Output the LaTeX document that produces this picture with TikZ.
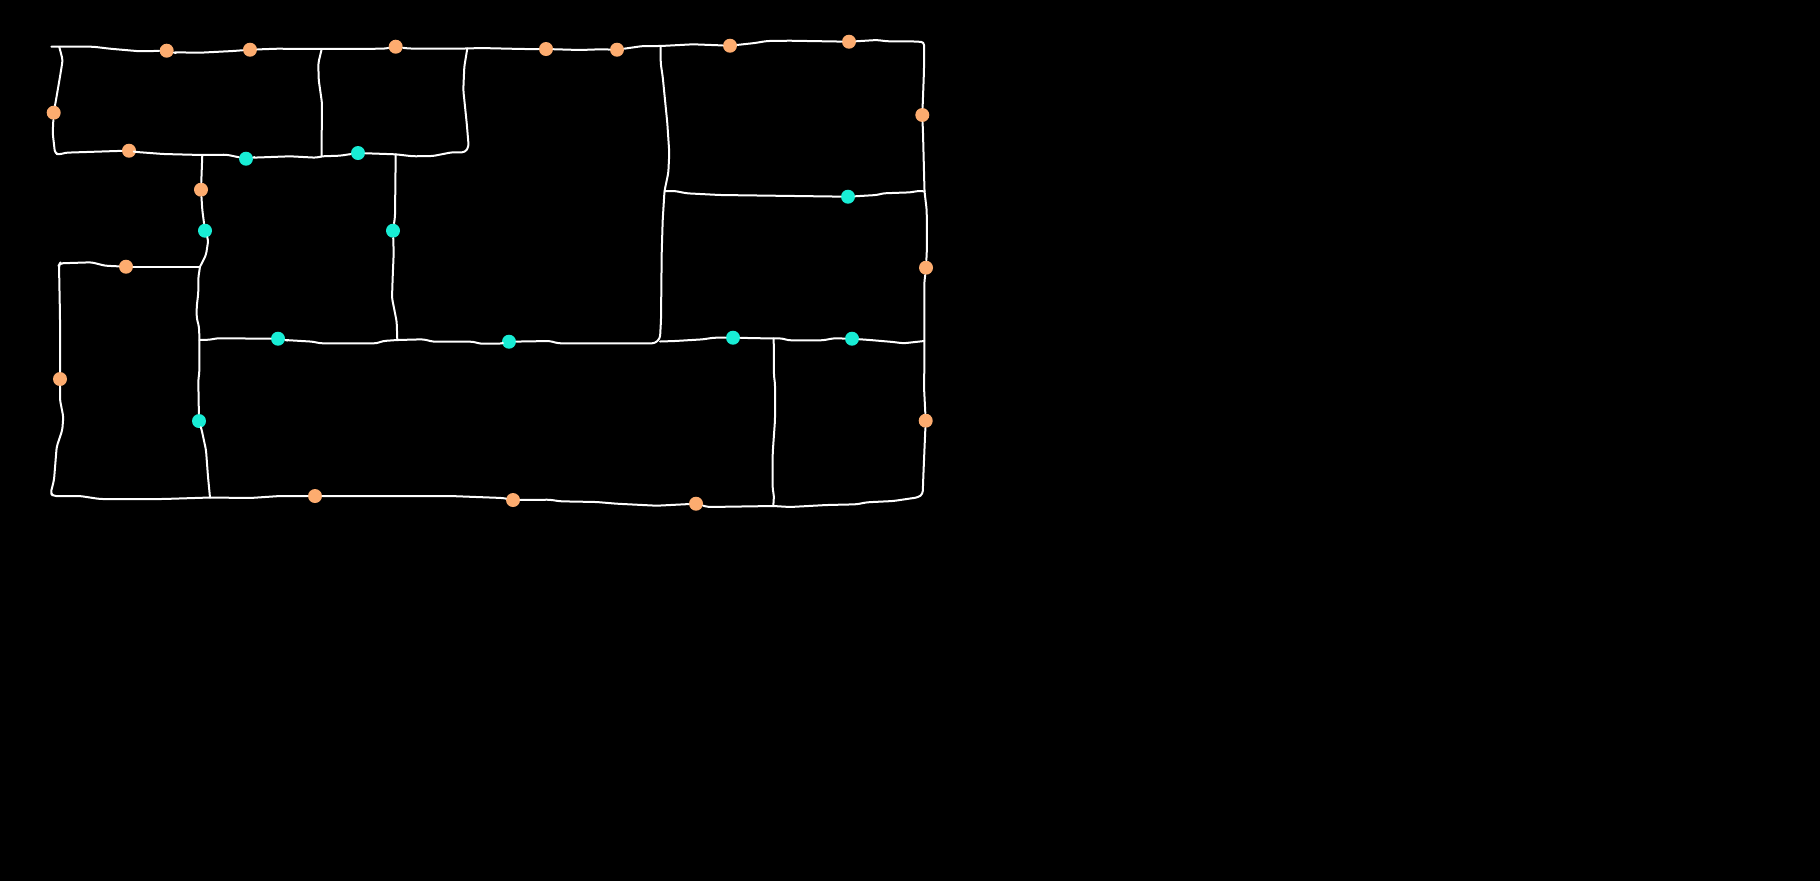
\documentclass[tikz,border=0pt]{standalone}

\begin{document}
\begin{tikzpicture}
[x=0.5pt,y=-0.5pt,
 peach/.style ={circle, fill={rgb,255:red,253;green,172;blue,111}, inner sep=0pt, minimum size=7pt},
 teal/.style ={circle, fill={rgb,255:red,24;green,237;blue,213}, inner sep=0pt, minimum size=7pt},
 wall/.style ={draw=white, line width=1pt, line join=round, line cap=round, rounded corners=1.5pt}]
\useasboundingbox (0,0) rectangle (1820,880);
\fill[black] (-10,-10) rectangle (1830,890);
% peach points
\path (166.7,50.7) node[peach] (P1){}
      (250,49.7) node[peach] (P2){}
      (395.7,46.7) node[peach] (P3){}
      (546,49) node[peach] (P4){}
      (617,49.7) node[peach] (P5){}
      (730,45.7) node[peach] (P6){}
      (849,41.7) node[peach] (P7){}
      (922.3,115) node[peach] (P8){}
      (926,267.7) node[peach] (P9){}
      (925.7,420.7) node[peach] (P10){}
      (696,503.7) node[peach] (P11){}
      (513,500) node[peach] (P12){}
      (315,496) node[peach] (P13){}
      (60,379) node[peach] (P14){}
      (126,266.7) node[peach] (P15){}
      (53.7,112.7) node[peach] (P16){}
      (129,150.7) node[peach] (P17){}
      (201,189.7) node[peach] (P18){};
% teal points
\path (246,158.7) node[teal] (T1){}
      (358,153) node[teal] (T2){}
      (205,230.7) node[teal] (T3){}
      (393,230.7) node[teal] (T4){}
      (848,196.7) node[teal] (T5){}
      (733,337.7) node[teal] (T6){}
      (852,338.7) node[teal] (T7){}
      (509,341.7) node[teal] (T8){}
      (199,421) node[teal] (T9){}
      (278,338.7) node[teal] (T10){};
% junctions
\path (51.3,46.7) coordinate (start)
      (59.3,47) coordinate (topa)
      (321.7,49) coordinate (topb)
      (467.3,48.5) coordinate (topc)
      (660.7,46) coordinate (topd)
      (202.3,155) coordinate (mida)
      (321.5,156.3) coordinate (midb)
      (395.7,154.3) coordinate (midc)
      (200,266.7) coordinate (lefta)
      (199.5,340) coordinate (leftb)
      (397.3,340) coordinate (cen)
      (660,341.5) coordinate (cena)
      (664.5,191) coordinate (righta)
      (924.5,191.3) coordinate (rightb)
      (924.3,341) coordinate (rightc)
      (773.7,338.5) coordinate (cenb)
      (773.3,506) coordinate (bota)
      (210,497.5) coordinate (botb);
% outer line
\draw[wall] (start) -- (93.3,46.7) -- (110,48.7) -- (140,51.3) -- (P1);
\draw[wall] (P1) -- (173,52.3) -- (200,52.7) -- (233,51) -- (P2);
\draw[wall] (P2) -- (276.7,48.7) -- (topb) -- (384,48.7) -- (P3);
\draw[wall] (P3) -- (408,48.5) -- (topc) -- (480,48) -- (523,49) -- (P4);
\draw[wall] (P4) -- (580,50) -- (600,49.3) -- (P5);
\draw[wall] (P5) -- (643,46) -- (topd) -- (693,44.3) -- (P6);
\draw[wall] (P6) -- (755,43) -- (767,41) -- (790,40.7) -- (P7);
\draw[wall] (P7) -- (877,40) -- (887,41.3) -- (910,41.3) -- (924,42) -- (924,70) -- (923,97) -- (P8);
\draw[wall] (P8) -- (923,133) -- (923.7,160) -- (rightb) -- (926.7,210) -- (927,247) -- (P9);
\draw[wall] (P9) -- (924.3,283) -- (rightc) -- (924.3,370) -- (924,387) -- (P10);
\draw[wall] (P10) -- (924.3,453) -- (923.3,477) -- (922.7,494) -- (918.3,497.3) -- (893.3,501) -- (866.7,502.3) -- (856.7,504.3) -- (826.7,505) -- (790,507) -- (bota) -- (708,507) -- (P11);
\draw[wall] (P11) -- (656.7,505.7) -- (616.7,503.7) -- (596.7,502) -- (560,501.3) -- (550,499.7) -- (P12);
\draw[wall] (P12) -- (503,498) -- (450,496) -- (P13);
\draw[wall] (P13) -- (280,496) -- (250,498) -- (botb) -- (163,499) -- (100,499) -- (80,496) -- (53,496) -- (50.7,493) -- (54,480) -- (56.7,446.7) -- (62.3,430) -- (63.3,416.7) -- (60,400) -- (P14);
\draw[wall] (P14) -- (60,316.7) -- (59,265) -- (60,263.3) -- (91.7,262.3) -- (105,265.7) -- (P15);
\draw[wall] (P15) -- (lefta);
% top left room
\draw[wall] (topa) -- (62.7,60) -- (60,76.7) -- (56,100) -- (P16);
\draw[wall] (P16) -- (52.7,133) -- (55,153.3) -- (59.3,154.7) -- (65,152.7) -- (116.7,151) -- (P17);
\draw[wall] (P17) -- (136.7,152) -- (163.3,154) -- (mida) -- (226.7,154.7) -- (T1);
\draw[wall] (T1) -- (251.7,157.7) -- (290,156.3) -- (316.7,157.7) -- (midb) -- (340,155.7) -- (T2);
\draw[wall] (T2) -- (midc) -- (413,156.3) -- (433,156) -- (451.7,152.3) -- (465,152.3) -- (468.7,146.7) -- (466.7,123) -- (463.3,90) -- (464.3,66.7) -- (topc);
\draw[wall] (topb) -- (318.3,63.3) -- (318.7,80) -- (322,103) -- (midb);
% inner verticals
\draw[wall] (mida) -- (P18);
\draw[wall] (P18) -- (202.3,210) -- (T3);
\draw[wall] (T3) -- (208.3,240) -- (206,255) -- (lefta);
\draw[wall] (lefta) -- (198.3,278) -- (198.3,293) -- (196.7,306.7) -- (196.7,318) -- (199,326.7) -- (leftb) -- (199.3,373) -- (198.3,380) -- (T9);
\draw[wall] (T9) -- (201.7,430) -- (206,450) -- (208,476.7) -- (botb);
\draw[wall] (midc) -- (395,216.7) -- (T4);
\draw[wall] (T4) -- (393.7,253) -- (392.7,276.7) -- (392,298) -- (396.7,321.7) -- (cen);
\draw[wall] (topd) -- (660.7,63.3) -- (662.7,76.7) -- (667.3,123) -- (669.3,153) -- (668.3,173) -- (righta) -- (662.7,220) -- (661.7,253) -- (661,320) -- (660,338.3) -- (655,343.3) -- (558,343.3) -- (550,341) -- (T8);
\draw[wall] (cenb) -- (774,376.7) -- (775,383) -- (775,420) -- (772.7,453) -- (772.7,490) -- (774,495) -- (bota);
% inner horizontals
\draw[wall] (leftb) -- (210,339.7) -- (216.7,338.3) -- (T10);
\draw[wall] (T10) -- (285,340) -- (313.3,341.7) -- (320,343.3) -- (376.7,343.3) -- (383,341) -- (cen) -- (423.3,339.3) -- (433.3,341.7) -- (473.3,341.7) -- (480,343.7) -- (500,343.7) -- (T8);
\draw[wall] (cena) -- (675,341) -- (703.3,339.3) -- (713.3,337.7) -- (T6);
\draw[wall] (T6) -- (cenb) -- (781.7,338.3) -- (788.3,340.3) -- (823.3,340.3) -- (833.3,338.3) -- (T7);
\draw[wall] (T7) -- (870,340) -- (893.3,342) -- (903.3,343.3) -- (rightc);
\draw[wall] (righta) -- (675,191) -- (686.7,193.3) -- (720,195) -- (T5);
\draw[wall] (T5) -- (876.7,195) -- (883.3,193.3) -- (911.7,192.3) -- (916.7,191) -- (rightb);
\end{tikzpicture}
\end{document}
